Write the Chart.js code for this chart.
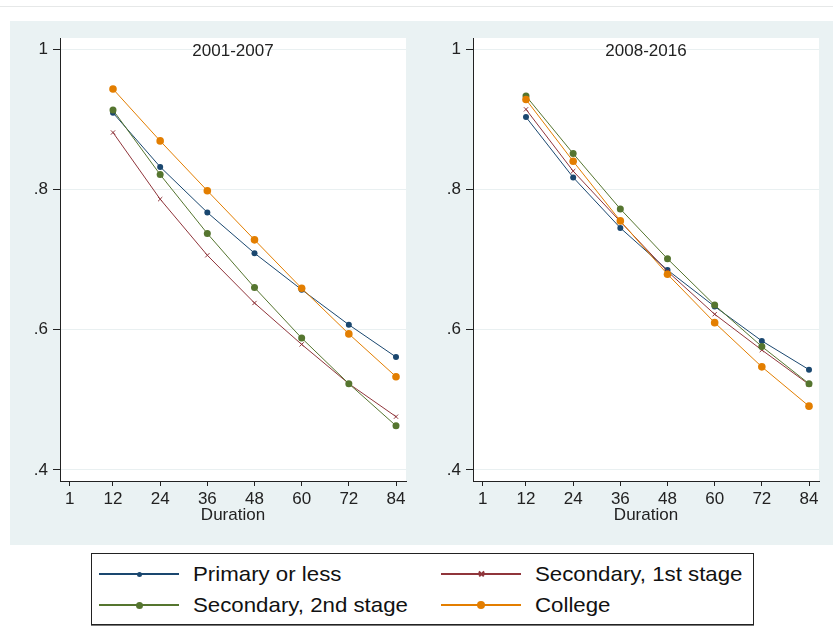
<!DOCTYPE html>
<html><head><meta charset="utf-8">
<script src="https://cdn.jsdelivr.net/npm/chart.js@4.4.1/dist/chart.umd.min.js"></script>
<style>
html,body{margin:0;padding:0;background:#fff;width:833px;height:635px;overflow:hidden;font-family:"Liberation Sans",Arial,sans-serif;}
#topline{position:absolute;left:0;top:6px;width:833px;height:1px;background:#e6e8e8;}
#panel{position:absolute;left:10px;top:21px;width:823px;height:524px;background:#eaf2f3;}
.cw{position:absolute;top:21px;height:524px;}
#c1w{left:10px;width:403px;}
#c2w{left:423px;width:410px;}
#legend{position:absolute;left:91px;top:553px;width:663px;height:72px;box-sizing:border-box;border:1px solid #222;background:#fff;box-shadow:0 1px 0 #777;}
.ln{position:absolute;width:80px;height:2px;}
.mk{position:absolute;border-radius:50%;}
.tx{position:absolute;font-size:21px;line-height:24px;color:#111;white-space:nowrap;transform:scaleX(1.06);transform-origin:0 50%;}
.xm{position:absolute;width:7px;height:1.5px;}
</style>
</head><body>
<div id="topline"></div>
<div id="panel"></div>
<div class="cw" id="c1w"><canvas id="c1"></canvas></div>
<div class="cw" id="c2w"><canvas id="c2"></canvas></div>
<div id="legend"></div>
<script>
// ---- data ----
const durations = [12, 24, 36, 48, 60, 72, 84];
const xTicks = [1, 12, 24, 36, 48, 60, 72, 84];
const yTicks = [0.4, 0.6, 0.8, 1];
const yTickLabels = ['.4', '.6', '.8', '1'];
const seriesNames = ['Primary or less', 'Secondary, 1st stage', 'Secondary, 2nd stage', 'College'];
const panelTitles = ['2001-2007', '2008-2016'];

// 2001-2007
const primaryA   = [0.909, 0.832, 0.767, 0.709, 0.657, 0.607, 0.561];
const sec1A      = [0.881, 0.786, 0.706, 0.638, 0.579, 0.523, 0.476];
const sec2A      = [0.913, 0.821, 0.737, 0.660, 0.588, 0.523, 0.463];
const collegeA   = [0.943, 0.869, 0.798, 0.728, 0.659, 0.594, 0.533];
// 2008-2016
const primaryB   = [0.903, 0.817, 0.745, 0.685, 0.633, 0.584, 0.543];
const sec1B      = [0.914, 0.826, 0.754, 0.683, 0.622, 0.571, 0.522];
const sec2B      = [0.933, 0.851, 0.772, 0.701, 0.635, 0.576, 0.523];
const collegeB   = [0.928, 0.840, 0.755, 0.679, 0.610, 0.547, 0.491];

// ---- styles ----
const colors = ['#1a476f', '#90353b', '#55752f', '#e37e00'];
const pStyles = ['circle', 'crossRot', 'circle', 'circle'];
const pRadius = [3, 3, 3.5, 3.8];

Chart.defaults.font.family = '"Liberation Sans", Arial, sans-serif';

const plotBg = {
  id: 'plotBg',
  beforeDraw(c) {
    const a = c.chartArea, ctx = c.ctx;
    ctx.save(); ctx.fillStyle = '#ffffff';
    ctx.fillRect(a.left, a.top, a.right - a.left, a.bottom - a.top);
    ctx.restore();
  }
};

function makeChart(id, title, seriesList, padRight) {
  const datasets = seriesList.map((vals, k) => ({
    label: seriesNames[k],
    data: durations.map((d, i) => ({x: d, y: vals[i]})),
    borderColor: colors[k],
    backgroundColor: colors[k],
    borderWidth: 1,
    tension: 0,
    pointStyle: pStyles[k],
    pointRadius: pRadius[k],
    pointBorderWidth: k === 1 ? 1 : 0,
    pointBorderColor: colors[k],
    order: 3 - k
  }));
  return new Chart(document.getElementById(id), {
    type: 'line',
    data: {datasets},
    plugins: [plotBg],
    options: {
      responsive: true,
      maintainAspectRatio: false,
      animation: false,
      events: [],
      layout: {padding: {left: 0, top: 17, right: padRight, bottom: 0}},
      plugins: {
        legend: {display: false},
        tooltip: {enabled: false},
        title: {
          display: true, text: title, color: '#222', fullSize: false,
          font: {size: 17, weight: 'normal'},
          padding: {top: 3, bottom: -23.4}
        }
      },
      scales: {
        x: {
          type: 'linear', min: -1.484, max: 86.544,
          afterBuildTicks(s) { s.ticks = xTicks.map(v => ({value: v})); },
          afterFit(s) { s.height = 64; },
          grid: {drawOnChartArea: false, drawTicks: true, tickLength: 5, tickColor: '#222', tickWidth: 1},
          border: {display: true, color: '#222', width: 1},
          ticks: {color: '#222', font: {size: 17}, padding: 3, maxRotation: 0, autoSkip: false,
                  callback(v, i) { return String(xTicks[i]); }},
          title: {display: true, text: 'Duration', color: '#222', font: {size: 17}, padding: {top: 0, bottom: 19}}
        },
        y: {
          min: 0.38432, max: 1.01568,
          afterBuildTicks(s) { s.ticks = yTicks.map(v => ({value: v})); },
          afterFit(s) { s.width = 50; },
          grid: {color: '#e9f0f1', lineWidth: 1, drawTicks: true, tickLength: 7, tickColor: '#222', tickWidth: 1},
          border: {display: true, color: '#222', width: 1},
          ticks: {color: '#222', font: {size: 17}, padding: 5, autoSkip: false,
                  callback(v, i) { return yTickLabels[i]; }}
        }
      }
    }
  });
}

makeChart('c1', panelTitles[0], [primaryA, sec1A, sec2A, collegeA], 7);
makeChart('c2', panelTitles[1], [primaryB, sec1B, sec2B, collegeB], 14);

// ---- legend (HTML) ----
const lg = document.getElementById('legend');
const slots = [
  {k: 0, lx: 7,   tx: 101, cy: 20},
  {k: 1, lx: 349, tx: 443, cy: 20},
  {k: 2, lx: 7,   tx: 101, cy: 51},
  {k: 3, lx: 349, tx: 443, cy: 51}
];
const lgSize = [5, 6, 7, 8];
slots.forEach(s => {
  const c = colors[s.k];
  const ln = document.createElement('div');
  ln.className = 'ln'; ln.style.left = s.lx + 'px'; ln.style.top = (s.cy - 1) + 'px'; ln.style.background = c;
  lg.appendChild(ln);
  const mx = s.lx + 40;
  if (pStyles[s.k] === 'crossRot') {
    [45, -45].forEach(a => {
      const b = document.createElement('div');
      b.className = 'xm'; b.style.background = c;
      b.style.left = (mx - 3.5) + 'px'; b.style.top = (s.cy - 0.75) + 'px';
      b.style.transform = 'rotate(' + a + 'deg)';
      lg.appendChild(b);
    });
  } else {
    const m = document.createElement('div');
    const d = lgSize[s.k];
    m.className = 'mk'; m.style.background = c;
    m.style.width = d + 'px'; m.style.height = d + 'px';
    m.style.left = (mx - d / 2) + 'px'; m.style.top = (s.cy - d / 2) + 'px';
    lg.appendChild(m);
  }
  const t = document.createElement('div');
  t.className = 'tx'; t.textContent = seriesNames[s.k];
  t.style.left = s.tx + 'px'; t.style.top = (s.cy - 12) + 'px';
  lg.appendChild(t);
});
</script>
</body></html>
